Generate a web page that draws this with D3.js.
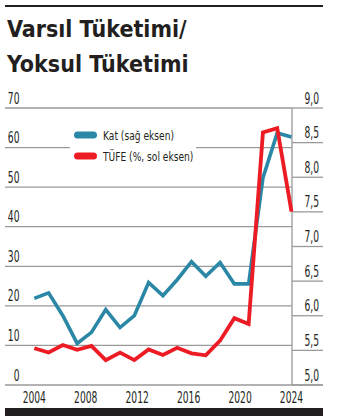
<!DOCTYPE html>
<html lang="tr">
<head>
<meta charset="utf-8">
<script src="https://cdn.jsdelivr.net/npm/d3@7"></script>
<style>
  html, body { margin: 0; padding: 0; background: #fff; }
  svg { display: block; }
  .title { font-family: "DejaVu Sans Condensed", "DejaVu Sans", sans-serif; font-weight: bold; font-size: 23px; fill: #231f20; }
  .tick-label { font-family: "DejaVu Sans Condensed", "DejaVu Sans", sans-serif; font-size: 15px; fill: #231f20; }
  .legend-label { font-family: "DejaVu Sans Condensed", "DejaVu Sans", sans-serif; font-size: 13px; fill: #231f20; }
</style>
</head>
<body>
<svg id="chart" width="337" height="416"></svg>
<script>
// Consumption ratio of richest to poorest (right axis) and CPI % (left axis)
const periods = d3.range(19);
const kat  = [6.25, 6.33, 6.00, 5.60, 5.76, 6.09, 5.83, 6.00, 6.48, 6.29,
              6.52, 6.78, 6.57, 6.77, 6.46, 6.46, 7.99, 8.64, 8.58];
const tufe = [9.3, 8.2, 10.1, 8.9, 9.9, 6.3, 8.2, 6.3, 9.0, 7.6,
              9.4, 8.0, 7.5, 11.2, 16.9, 15.4, 63.8, 64.9, 43.8];
const leftTicks  = [0, 10, 20, 30, 40, 50, 60, 70];
const rightTicks = [5.0, 5.5, 6.0, 6.5, 7.0, 7.5, 8.0, 8.5, 9.0];
const yearTicks  = [2004, 2008, 2012, 2016, 2020, 2024];
const seriesNames = ["Kat (sağ eksen)", "TÜFE (%, sol eksen)"];

const colors = { kat: "#2b87a6", tufe: "#ed1c24", grid: "#9a9a9a", ink: "#231f20" };

const svg = d3.select("#chart");
const trFormat = d3.formatLocale({ decimal: ",", thousands: ".", grouping: [3], currency: ["", " ₺"] }).format(".1f");

const plot = { left: 5, axisX: 292, right: 323, top: 108, bottom: 385 };
const narrow = 0.68;        // horizontal squeeze for the condensed axis type
const legendNarrow = 0.78;

const x = d3.scalePoint().domain(periods).range([34.3, 291.5]);
const xYear = d3.scaleLinear().domain([2004, 2024]).range([34.3, 291.5]);
const yLeft = d3.scaleLinear().domain([0, 70]).range([plot.bottom, plot.top]);
const yRight = d3.scaleLinear().domain([5, 9]).range([plot.bottom, plot.top]);

const place = (px, py, sx) => `translate(${px},${py}) scale(${sx},1)`;

// top rule
svg.append("line")
  .attr("x1", 5).attr("x2", 323).attr("y1", 6).attr("y2", 6)
  .attr("stroke", colors.ink).attr("stroke-width", 2);

// title
const title = svg.append("text").attr("class", "title");
title.append("tspan").attr("x", 7).attr("y", 37).text("Varsıl Tüketimi/");
title.append("tspan").attr("x", 7).attr("y", 72).text("Yoksul Tüketimi");

// left gridlines and labels
const leftG = svg.append("g");
leftG.selectAll("line").data(leftTicks).join("line")
  .attr("x1", plot.left).attr("x2", d => d === 0 ? plot.right : plot.axisX)
  .attr("y1", d => yLeft(d)).attr("y2", d => yLeft(d))
  .attr("stroke", colors.grid).attr("stroke-width", 1.3);
leftG.selectAll("text").data(leftTicks).join("text")
  .attr("class", "tick-label")
  .attr("transform", d => place(19.5, yLeft(d) - 4.5, narrow))
  .attr("text-anchor", "end")
  .text(d => d);

// right axis line, ticks and labels
const rightG = svg.append("g");
rightG.append("line")
  .attr("x1", plot.axisX).attr("x2", plot.axisX)
  .attr("y1", plot.top).attr("y2", plot.bottom)
  .attr("stroke", colors.grid).attr("stroke-width", 1.3);
rightG.selectAll("line.rt").data(rightTicks).join("line")
  .attr("class", "rt")
  .attr("x1", plot.axisX).attr("x2", plot.right)
  .attr("y1", d => yRight(d)).attr("y2", d => yRight(d))
  .attr("stroke", colors.grid).attr("stroke-width", 1.3);
rightG.selectAll("text").data(rightTicks).join("text")
  .attr("class", "tick-label")
  .attr("transform", d => place(319, yRight(d) - 4.5, narrow))
  .attr("text-anchor", "end")
  .text(d => trFormat(d));

// year labels
svg.append("g").selectAll("text").data(yearTicks).join("text")
  .attr("class", "tick-label")
  .attr("transform", d => place(xYear(d), 403, narrow))
  .attr("text-anchor", "middle")
  .text(d => d);

// legend (white box masks the gridline behind it)
const legend = svg.append("g");
legend.append("rect").attr("x", 70).attr("y", 124).attr("width", 126).attr("height", 42).attr("fill", "#fff");
const legendRows = [
  { name: seriesNames[0], color: colors.kat, y: 135 },
  { name: seriesNames[1], color: colors.tufe, y: 156 }
];
legendRows.forEach(r => {
  legend.append("line")
    .attr("x1", 77.5).attr("x2", 93.5).attr("y1", r.y).attr("y2", r.y)
    .attr("stroke", r.color).attr("stroke-width", 7).attr("stroke-linecap", "round");
  legend.append("text").attr("class", "legend-label")
    .attr("transform", place(103, r.y + 4.5, legendNarrow))
    .text(r.name);
});

// series lines
const katLine = d3.line().x((d, i) => x(periods[i])).y(d => yRight(d));
const tufeLine = d3.line().x((d, i) => x(periods[i])).y(d => yLeft(d));

svg.append("path").datum(kat)
  .attr("d", katLine).attr("fill", "none")
  .attr("stroke", colors.kat).attr("stroke-width", 3.6);
svg.append("path").datum(tufe)
  .attr("d", tufeLine).attr("fill", "none")
  .attr("stroke", colors.tufe).attr("stroke-width", 3.8);

// bottom bar
svg.append("rect").attr("x", 5).attr("y", 408).attr("width", 318).attr("height", 8).attr("fill", colors.ink);
</script>
</body>
</html>
